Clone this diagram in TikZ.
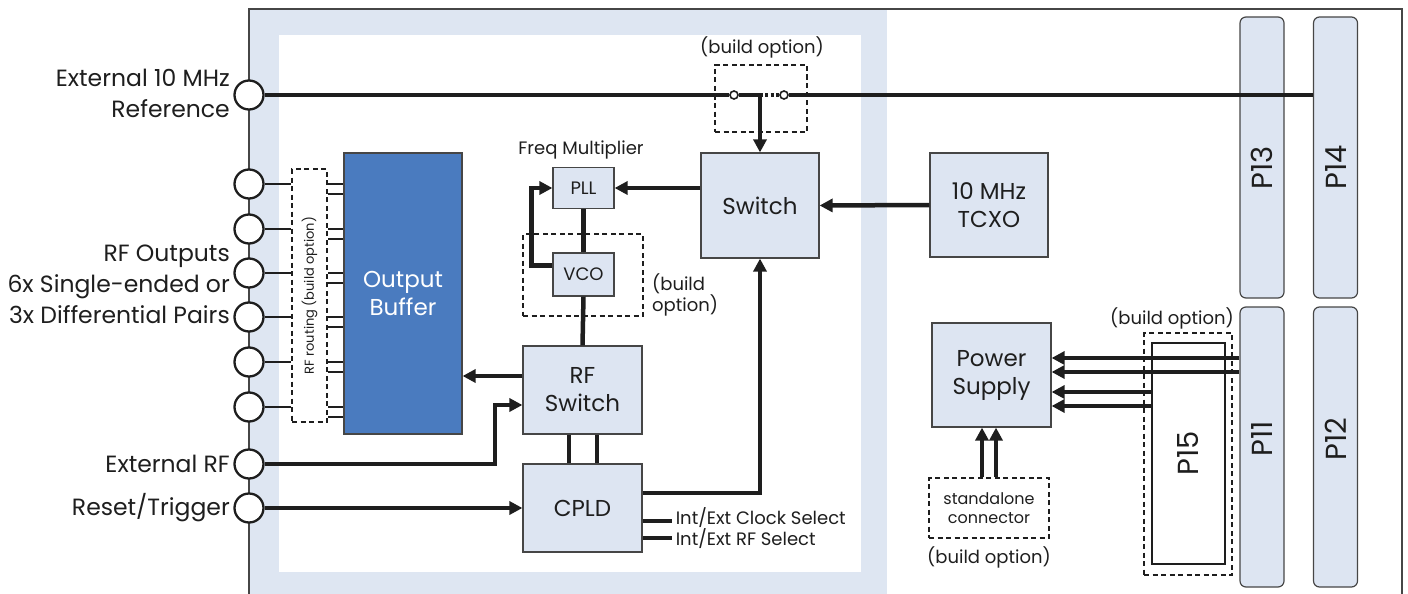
\documentclass[tikz,border=0pt]{standalone}
\usepackage{fontspec}
\setmainfont{Poppins}
\usetikzlibrary{arrows.meta,calc}
\definecolor{bandblue}{RGB}{222,230,242}
\definecolor{boxblue}{RGB}{221,229,242}
\definecolor{bufblue}{RGB}{74,123,191}
\definecolor{edge}{RGB}{70,70,70}
\definecolor{ink}{RGB}{30,30,30}
\begin{document}
\begin{tikzpicture}[x=1pt,y=-1pt,
  bigf/.style={font=\fontsize{23}{28}\selectfont},
  lblf/.style={font=\fontsize{23.5}{31}\selectfont},
  smf/.style={font=\fontsize{18}{20}\selectfont},
  scf/.style={font=\fontsize{16}{19}\selectfont},
  pf/.style={font=\fontsize{29}{30}\selectfont},
  blk/.style={draw=edge, line width=1.2pt, fill=boxblue, align=center, inner sep=0pt, text=ink},
  dbox/.style={draw=ink, line width=2pt, dash pattern=on 5pt off 3.5pt, inner sep=0pt},
  pbox/.style={draw=edge, line width=1.2pt, fill=boxblue, rounded corners=6pt, inner sep=0pt, minimum width=44pt, text=ink, pf},
  port/.style={circle, draw=ink, line width=2.3pt, fill=white, minimum size=29pt, inner sep=0pt},
  jdot/.style={circle, draw=ink, line width=1.6pt, fill=white, minimum size=8pt, inner sep=0pt},
  conn/.style={draw=ink, line width=4.5pt},
  thinc/.style={draw=ink, line width=2pt},
  arr/.style={conn, -{Triangle[length=13pt,width=13pt]}},
  txt/.style={text=ink, inner sep=0pt}
]
\useasboundingbox (0,0) rectangle (1408,594);
% board
\fill[bandblue] (249,9) rectangle (887,594);
\fill[white] (279,35) rectangle (861,572);
\draw[edge, line width=1.5pt] (249,594) -- (249,9) -- (1402,9) -- (1402,594);

% connectors P
\node[pbox, minimum height=281pt] (p13) at (1262,157.5) {\rotatebox{90}{P13\hspace*{20pt}}};
\node[pbox, minimum height=281pt] (p14) at (1335.5,157.5) {\rotatebox{90}{P14\hspace*{20pt}}};
\node[pbox, minimum height=280pt] (p11) at (1262,447) {\rotatebox{90}{\hspace*{16pt}P11}};
\node[pbox, minimum height=280pt] (p12) at (1335.5,447) {\rotatebox{90}{\hspace*{16pt}P12}};

% left labels
\node[txt, lblf, anchor=east, align=right] (lref) at (230,93) {External 10 MHz\\Reference};
\node[txt, lblf, anchor=east, align=right] (lrf) at (230,284.5) {RF Outputs\\6x Single-ended or\\3x Differential Pairs};
\node[txt, lblf, anchor=east] (lext) at (230,464) {External RF};
\node[txt, lblf, anchor=east] (lrst) at (230,508) {Reset/Trigger};

% main blocks
\node[blk, bigf, minimum width=118pt, minimum height=105pt] (sw) at (760,205.5) {Switch};
\node[blk, bigf, minimum width=118pt, minimum height=104pt] (tcxo) at (989,205) {10 MHz\\TCXO};
\node[dbox, minimum width=120pt, minimum height=82pt] (vcoopt) at (583,275) {};
\node[blk, smf, minimum width=61pt, minimum height=41pt] (pll) at (583.5,188) {PLL};
\node[blk, smf, minimum width=61pt, minimum height=43pt] (vco) at (583.5,274.5) {VCO};
\node[txt, smf, anchor=south] (fm) at (581,159) {Freq Multiplier};
\node[txt, font=\fontsize{18}{16}\selectfont, anchor=west, align=left] (vcooptl) at (652,295) {(build\\option)};
\node[blk, bigf, minimum width=119pt, minimum height=88pt] (rfsw) at (582.5,390) {RF\\Switch};
\node[blk, bigf, minimum width=119pt, minimum height=88pt] (cpld) at (582.5,508) {CPLD};
\node[draw=edge, line width=1.2pt, fill=bufblue, text=white, align=center, bigf, minimum width=118pt, minimum height=281pt] (buf) at (403,293.5) {Output\\Buffer};
\node[dbox, minimum width=35pt, minimum height=253pt, text=ink] (route) at (309.5,295.5) {\rotatebox{90}{\fontsize{13}{13}\selectfont RF routing (build option)}};

% jumper on reference line
\node[dbox, minimum width=92pt, minimum height=67pt] (jbox) at (761,98.5) {};
\node[txt, smf] (jboxl) at (762,47) {(build option)};

% ports
\node[port] (pref) at (249,95) {};
\foreach \i/\y in {1/184,2/229,3/273,4/317,5/362,6/407}{
  \node[port] (o\i) at (249,\y) {};
  \draw[thinc] (o\i) -- (o\i -| route.west);
  \draw[thinc] (o\i -| route.east) -- (o\i -| buf.west);
  \draw[thinc] ($(o\i -| route.east)+(0,10)$) -- ($(o\i -| buf.west)+(0,10)$);
}
\node[port] (prf) at (249,464) {};
\node[port] (prst) at (249,508) {};

% reference line
\node[jdot] (jl) at (734,95) {};
\node[jdot] (jr) at (784,95) {};
\coordinate (jm) at (760,95);
\coordinate (jd) at (765,95);
\draw[conn] (pref) -- (jl);
\draw[conn] (jl) -- ($(jm)+(2.5,0)$);
\draw[draw=ink, line width=4.5pt, dash pattern=on 3pt off 2.5pt] (jd) -- (jr);
\draw[conn] (jr) -- (jr -| p14.west);
\draw[arr] (jm) -- (sw.north);

% clock path
\draw[arr] (tcxo.west) -- (sw.east);
\draw[arr] (sw.west |- pll.east) -- (pll.east);
\draw[arr] ($(vco.west)+(0,-9)$) -- ++(-21,0) |- (pll.west);
\draw[conn] (pll.south) -- (vco.north);
\draw[conn] (vco.south) -- (rfsw.north);

% rf path
\coordinate (rfo) at ($(rfsw.west)+(0,-14)$);
\draw[arr] (rfo) -- (rfo -| buf.east);
\coordinate (rfi) at ($(rfsw.west)+(0,15)$);
\coordinate (rfbend) at (495,464);
\draw[arr] (prf) -- (rfbend) |- (rfi);
\draw[arr] (prst) -- (cpld.west);
\draw[conn] ($(rfsw.south)+(-13.5,0)$) -- ($(cpld.north)+(-13.5,0)$);
\draw[conn] ($(rfsw.south)+(14.5,0)$) -- ($(cpld.north)+(14.5,0)$);
\coordinate (co) at ($(cpld.east)+(0,-15)$);
\draw[arr] (co) -| (sw.south);
\coordinate (c1) at ($(cpld.east)+(0,13)$);
\coordinate (c2) at ($(cpld.east)+(0,30)$);
\draw[conn] (c1) -- ++(29,0) coordinate (c1e);
\draw[conn] (c2) -- ++(29,0) coordinate (c2e);
\node[txt, smf, anchor=west] (clk) at ($(c1e)+(4,-3)$) {Int/Ext Clock Select};
\node[txt, smf, anchor=west] (rfs) at ($(c2e)+(4,1)$) {Int/Ext RF Select};

% power
\node[blk, bigf, minimum width=119pt, minimum height=104pt] (ps) at (991.5,375) {Power\\Supply};
\node[dbox, minimum width=88pt, minimum height=242pt] (p15opt) at (1188,454) {};
\node[draw=ink, line width=2pt, fill=white, minimum width=73pt, minimum height=221pt, inner sep=0pt, pf, text=ink] (p15) at (1188.5,453.5) {\rotatebox{90}{P15}};
\node[txt, smf, anchor=east] (p15optl) at (1234,318) {(build option)};
\coordinate (a1) at ($(ps.east)+(0,-17)$);
\coordinate (a2) at ($(ps.east)+(0,-3)$);
\coordinate (a3) at ($(ps.east)+(0,17)$);
\coordinate (a4) at ($(ps.east)+(0,31)$);
\draw[arr] (a1 -| p11.west) -- (a1);
\draw[arr] (a2 -| p11.west) -- (a2);
\draw[arr] (a3 -| p15.west) -- (a3);
\draw[arr] (a4 -| p15.west) -- (a4);
\node[dbox, scf, text=ink, align=center, minimum width=120pt, minimum height=60pt] (sc) at (989,508) {standalone\\connector};
\node[txt, smf] (scl) at (989,557) {(build option)};
\coordinate (s1) at ($(sc.north)+(-7,0)$);
\coordinate (s2) at ($(sc.north)+(7,0)$);
\draw[arr] (s1) -- (s1 |- ps.south);
\draw[arr] (s2) -- (s2 |- ps.south);
\end{tikzpicture}
\end{document}
